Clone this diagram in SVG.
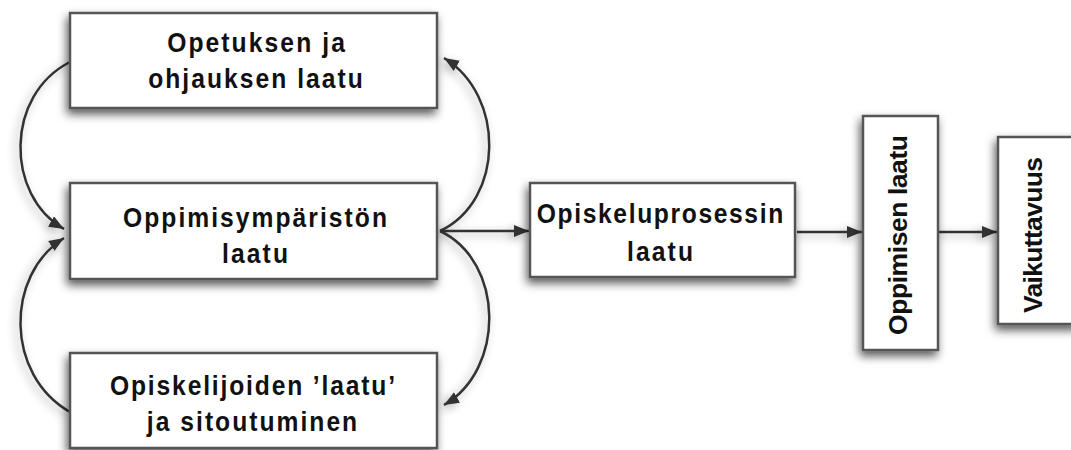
<svg xmlns="http://www.w3.org/2000/svg" width="1071" height="450" viewBox="0 0 1071 450">
<defs>
<style>
.box{fill:#fff;stroke:#555;stroke-width:2.5}
.lbl{font-family:"Liberation Sans",Arial,sans-serif;font-weight:bold;font-size:28px;fill:#111;text-anchor:middle}
.vlbl{font-family:"Liberation Sans",Arial,sans-serif;font-weight:bold;font-size:26.5px;fill:#111;text-anchor:middle}
.con{fill:none;stroke:#333;stroke-width:2.5}
</style>
<filter id="sh" x="-20%" y="-20%" width="140%" height="150%">
<feDropShadow dx="-2" dy="5" stdDeviation="5" flood-color="#000" flood-opacity="0.65"/>
</filter>
<filter id="csh" x="-30%" y="-30%" width="160%" height="160%">
<feDropShadow dx="-3" dy="3" stdDeviation="5" flood-color="#000" flood-opacity="0.35"/>
</filter>
<marker id="arr" markerUnits="userSpaceOnUse" markerWidth="18" markerHeight="14" refX="15" refY="6" orient="auto">
<path d="M0,0 L15,6 L0,12 z" fill="#333"/>
</marker>
</defs>
<rect width="1071" height="450" fill="#fff"/>
<g id="connectors" filter="url(#csh)">
<path class="con" d="M70,62 C5,95 5,195 64,229" marker-end="url(#arr)"/>
<path class="con" d="M70,412 C5,375 5,275 64,238" marker-end="url(#arr)"/>
<path class="con" d="M440,231 C505,200 505,95 444,58" marker-end="url(#arr)"/>
<path class="con" d="M440,231 C505,262 505,370 444,405" marker-end="url(#arr)"/>
<path class="con" d="M440,231 L529,231" marker-end="url(#arr)"/>
<path class="con" d="M797,232 L862,232" marker-end="url(#arr)"/>
<path class="con" d="M939,232 L997,232" marker-end="url(#arr)"/>
</g>
<g id="node-opetus">
<rect class="box" x="70" y="13" width="367" height="95" filter="url(#sh)"/>
<text class="lbl" transform="translate(256,51.5) scale(0.88,1)" textLength="202" lengthAdjust="spacing">Opetuksen ja</text>
<text class="lbl" transform="translate(255.5,88) scale(0.88,1)" textLength="244" lengthAdjust="spacing">ohjauksen laatu</text>
</g>
<g id="node-ymparisto">
<rect class="box" x="70" y="183" width="367" height="96" filter="url(#sh)"/>
<text class="lbl" transform="translate(255,226.5) scale(0.88,1)" textLength="300" lengthAdjust="spacing">Oppimisympäristön</text>
<text class="lbl" transform="translate(255,263) scale(0.88,1)" textLength="75" lengthAdjust="spacing">laatu</text>
</g>
<g id="node-opiskelijat">
<rect class="box" x="70" y="353" width="367" height="95" filter="url(#sh)"/>
<text class="lbl" transform="translate(252.5,395) scale(0.88,1)" textLength="324" lengthAdjust="spacing">Opiskelijoiden ’laatu’</text>
<text class="lbl" transform="translate(252,431) scale(0.88,1)" textLength="239" lengthAdjust="spacing">ja sitoutuminen</text>
</g>
<g id="node-prosessi">
<rect class="box" x="530" y="183" width="265" height="94" filter="url(#sh)"/>
<text class="lbl" transform="translate(660,223) scale(0.88,1)" textLength="280" lengthAdjust="spacing">Opiskeluprosessin</text>
<text class="lbl" transform="translate(660,261) scale(0.88,1)" textLength="75" lengthAdjust="spacing">laatu</text>
</g>
<g id="node-oppiminen">
<rect class="box" x="863" y="116" width="75" height="234" filter="url(#sh)"/>
<text class="vlbl" transform="translate(907,235) rotate(-90)" textLength="200" lengthAdjust="spacing">Oppimisen laatu</text>
</g>
<g id="node-vaikuttavuus">
<rect class="box" x="998" y="137" width="82" height="187" filter="url(#sh)"/>
<text class="vlbl" transform="translate(1042,235) rotate(-90)" textLength="156" lengthAdjust="spacing">Vaikuttavuus</text>
</g>
</svg>
